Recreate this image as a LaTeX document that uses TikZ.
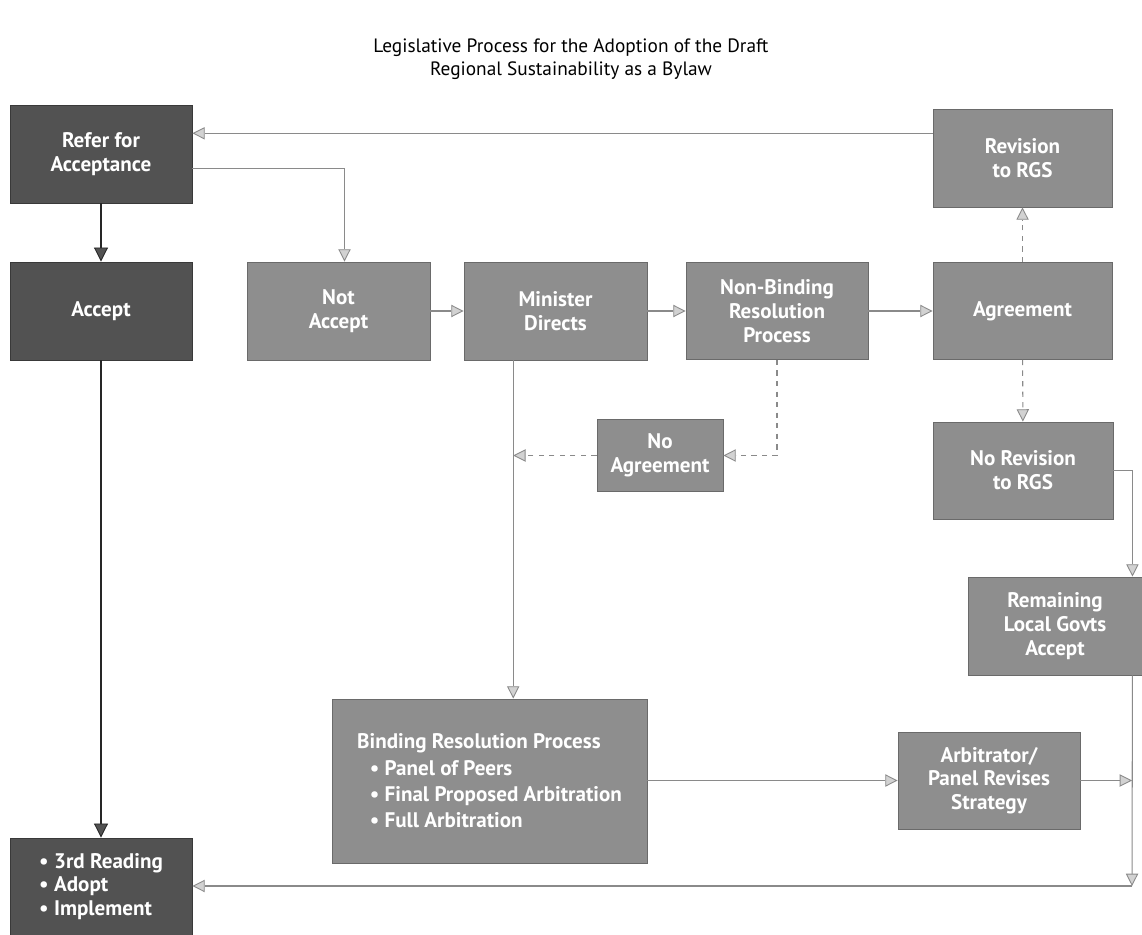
\documentclass[tikz,border=0pt]{standalone}
\usepackage{fontspec}
\setmainfont{PT Sans}
\usetikzlibrary{arrows.meta, calc}
\definecolor{darkfill}{HTML}{525252}
\definecolor{lightfill}{HTML}{8E8E8E}
\definecolor{linegray}{HTML}{8A8A8A}
\tikzset{
  boxtext/.style={font=\fontsize{12}{13.5}\selectfont\bfseries, text=white, align=center, inner sep=0pt},
  boxsize/.style 2 args={minimum width=#1*0.02cm, minimum height=#2*0.02cm},
  darkbox/.style={boxtext, rectangle, fill=darkfill, draw=darkfill!70!black, line width=0.5pt},
  lightbox/.style={boxtext, rectangle, fill=lightfill, draw=lightfill!75!black, line width=0.5pt}
}
\tikzset{
  grayarrow/.style={draw=linegray, line width=0.6pt, -{Triangle[length=7pt,width=7pt,fill=gray!35,color=linegray,line width=0.5pt]}},
  darkarrow/.style={draw=black!85, line width=1.5pt, -{Triangle[length=8pt,width=8pt,fill=darkfill,color=black!85,line width=0.5pt]}},
  dasharrow/.style={grayarrow, dash pattern=on 3pt off 3pt}
}

\begin{document}
\begin{tikzpicture}[x=0.02cm, y=-0.02cm]
  \useasboundingbox (0,0) rectangle (1142,935);
  % title
  \node[font=\fontsize{11}{13}\selectfont, align=center] (title) at (571,59)
    {Legislative Process for the Adoption of the Draft\\Regional Sustainability as a Bylaw};
  % left column
  \node[darkbox, boxsize={182}{98}] (refer) at (101,154) {Refer for\\Acceptance};
  \node[darkbox, boxsize={182}{98}] (accept) at (101,311) {Accept};
  \node[darkbox, boxsize={182}{97}, align=left] (adopt) at (101,886.5)
    {\textbullet\ 3rd Reading\\\textbullet\ Adopt\\\textbullet\ Implement};
  % middle row
  \node[lightbox, boxsize={183}{98}] (notacc) at (338.5,311) {Not\\Accept};
  \node[lightbox, boxsize={183}{98}] (minister) at (555.5,311) {Minister\\Directs};
  \node[lightbox, boxsize={182}{97}] (nonbind) at (777,311) {Non-Binding\\Resolution\\Process};
  \node[lightbox, boxsize={179}{97}] (agree) at (1022.5,311) {Agreement};
  \node[lightbox, boxsize={179}{98}] (revision) at (1022.5,158) {Revision\\to RGS};
  \node[lightbox, boxsize={126}{72}] (noagree) at (660,455.5) {No\\Agreement};
  \node[lightbox, boxsize={180}{97}] (norev) at (1023,470.5) {No Revision\\to RGS};
  \node[lightbox, boxsize={174}{98}] (remaining) at (1055,626) {Remaining\\Local Govts\\Accept};
  % bottom row
  \node[lightbox, boxsize={315}{164}, align=left, font=\fontsize{12}{15}\selectfont\bfseries] (binding) at (489.5,781)
    {Binding Resolution Process\\
     \hspace*{0.6em}\textbullet\ Panel of Peers\\
     \hspace*{0.6em}\textbullet\ Final Proposed Arbitration\\
     \hspace*{0.6em}\textbullet\ Full Arbitration};
  \node[lightbox, boxsize={182}{97}] (arbit) at (989,780.5) {Arbitrator/\\Panel Revises\\Strategy};

  % connectors
  \coordinate (mline) at ($(minister.south west)!0.27!(minister.south east)$);
  \coordinate (corner) at (1132,886);
  \coordinate (revin) at ($(revision.north west)!0.25!(revision.south west)$);
  \draw[darkarrow] (refer) -- (accept);
  \draw[darkarrow] (accept) -- (adopt);
  \draw[grayarrow] (revin) -- (refer.east |- revin);
  \draw[grayarrow] ($(refer.north east)!0.65!(refer.south east)$) -| ([xshift=6*0.02cm]notacc.north);
  \draw[grayarrow] (notacc) -- (minister);
  \draw[grayarrow] (minister) -- (nonbind);
  \draw[grayarrow] (nonbind) -- (agree);
  \draw[dasharrow] (agree) -- (revision);
  \draw[dasharrow] (agree) -- (norev);
  \draw[dasharrow] (nonbind.south) |- (noagree.east);
  \draw[dasharrow] (noagree.west) -- (noagree.west -| mline);
  \draw[grayarrow] (mline) -- (mline |- binding.north);
  \draw[grayarrow] (binding.east |- arbit.west) -- (arbit.west);
  \draw[grayarrow] (norev.east) -| ([xshift=-10*0.02cm]remaining.north east);
  \draw[grayarrow] ([xshift=-10*0.02cm]remaining.south east) -- (corner);
  \draw[grayarrow] (arbit.east) -- (arbit.east -| corner);
  \draw[grayarrow] (corner) -- (adopt.east |- corner);
\end{tikzpicture}
\end{document}
